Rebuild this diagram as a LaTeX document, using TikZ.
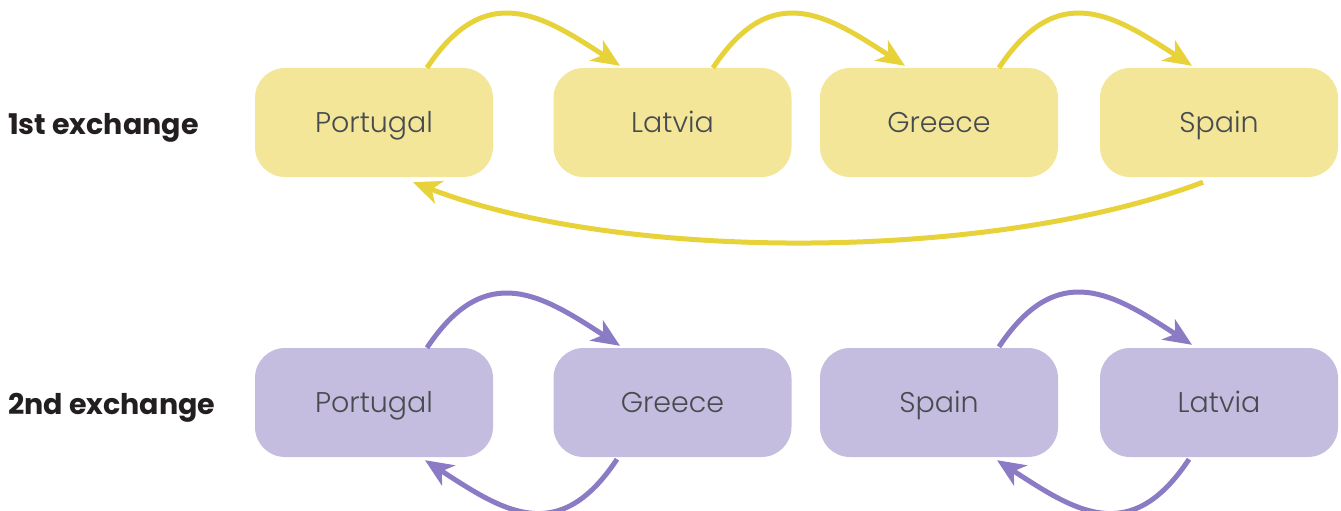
\documentclass[tikz,border=0pt]{standalone}
\usepackage{fontspec}
\setmainfont{Poppins}
\newfontfamily\boxfont{Poppins Light}
\usetikzlibrary{arrows.meta,calc}
\definecolor{yfill}{HTML}{F3E699}
\definecolor{pfill}{HTML}{C5BDDF}
\definecolor{yline}{HTML}{E8D23A}
\definecolor{pline}{HTML}{8A7BC4}
\definecolor{txt}{HTML}{474B4F}
\definecolor{lbltxt}{HTML}{231F20}
\begin{document}
\begin{tikzpicture}[x=1pt,y=-1pt,
  box/.style={rounded corners=30pt, minimum width=238pt, minimum height=109pt, inner sep=0pt, text height=20pt, text depth=0pt, font=\boxfont\fontsize{28.5}{32}\selectfont, text=txt},
  yb/.style={box, fill=yfill},
  pb/.style={box, fill=pfill},
  lbl/.style={anchor=base west, font=\fontsize{28.5}{32}\selectfont\bfseries, text=lbltxt, inner sep=0pt},
  arr/.style={line width=5pt, -{Stealth[length=28pt,width=24pt,inset=8pt]}},
  yarr/.style={arr, draw=yline},
  parr/.style={arr, draw=pline}]
\useasboundingbox (0,0) rectangle (1341,511);
% row 1
\node[lbl] (r1) at (8,134) {1st exchange};
\node[yb] (p1) at (374,122.5) {Portugal};
\node[yb] (l1) at (672.5,122.5) {Latvia};
\node[yb] (g1) at (939,122.5) {Greece};
\node[yb] (s1) at (1219,122.5) {Spain};
\draw[yarr] ($(p1.north)+(53,0)$) .. controls +(59,-89) and +(-77,-50) .. ($(l1.north)+(-52.5,-2)$);
\draw[yarr] ($(l1.north)+(40.5,0)$) .. controls +(59,-89) and +(-77,-50) .. ($(g1.north)+(-34,-2)$);
\draw[yarr] ($(g1.north)+(60,0)$) .. controls +(59,-89) and +(-77,-50) .. ($(s1.north)+(-27,-2)$);
\draw[yarr] ($(s1.south)+(-16,5)$) .. controls +(-213,80) and +(207,80) .. ($(p1.south)+(39,5)$);
% row 2
\node[lbl] (r2) at (8,414) {2nd exchange};
\node[pb] (p2) at (374,402.5) {Portugal};
\node[pb] (g2) at (672.5,402.5) {Greece};
\node[pb] (s2) at (939,402.5) {Spain};
\node[pb] (l2) at (1219,402.5) {Latvia};
\draw[parr] ($(p2.north)+(53,0)$) .. controls +(59,-89) and +(-77,-50) .. ($(g2.north)+(-52.5,-2)$);
\draw[parr] ($(g2.south)+(-55.5,2)$) .. controls +(-59,89) and +(77,50) .. ($(p2.south)+(51,3)$);
\draw[parr] ($(s2.north)+(60,-1)$) .. controls +(59,-89) and +(-77,-50) .. ($(l2.north)+(-27,-3)$);
\draw[parr] ($(l2.south)+(-30,2)$) .. controls +(-59,89) and +(77,50) .. ($(s2.south)+(58,3)$);
\end{tikzpicture}
\end{document}
